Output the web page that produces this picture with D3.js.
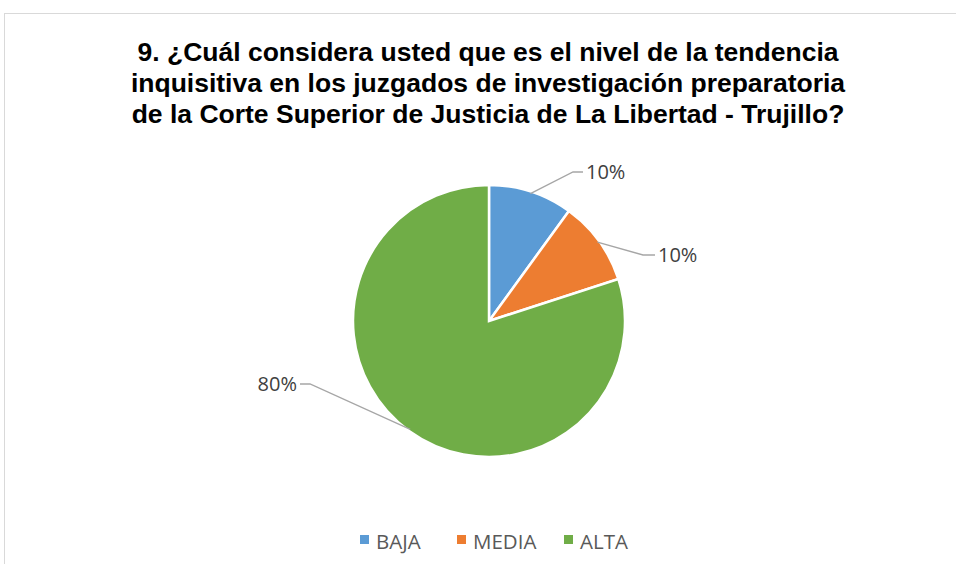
<!DOCTYPE html>
<html>
<head>
  <script src="https://cdn.jsdelivr.net/npm/d3@7"></script>
  <style>
    body { margin: 0; background: #fff; }
    svg { display: block; }
  </style>
</head>
<body>
  <svg width="956" height="564"></svg>
<script>
  const categories = ['BAJA', 'MEDIA', 'ALTA'];
  const values = [10, 10, 80];
  const pctLabels = ['10%', '10%', '80%'];
  const colors = ['#5B9BD5', '#ED7D31', '#70AD47'];
  const titleLines = [
    '9. ¿Cuál considera usted que es el nivel de la tendencia',
    'inquisitiva en los juzgados de investigación preparatoria',
    'de la Corte Superior de Justicia de La Libertad - Trujillo?'
  ];

  const svg = d3.select('svg');

  // chart frame
  svg.append('rect')
    .attr('x', 4.5).attr('y', 13.5)
    .attr('width', 960).attr('height', 560)
    .attr('fill', '#fff')
    .attr('stroke', '#d9d9d9');

  // title
  svg.append('g').selectAll('text')
    .data(titleLines)
    .enter().append('text')
    .attr('x', 488)
    .attr('y', (d, i) => 61 + i * 31)
    .attr('text-anchor', 'middle')
    .style('font-family', '"Liberation Sans", Arial, sans-serif')
    .style('font-weight', 'bold')
    .style('font-size', '26.5px')
    .attr('fill', '#000')
    .text(d => d);

  const cx = 489, cy = 321, r = 136;
  const pie = d3.pie().sort(null).value(d => d)(values);
  const arc = d3.arc().innerRadius(0).outerRadius(r);

  const g = svg.append('g').attr('transform', `translate(${cx}, ${cy})`);
  g.selectAll('path')
    .data(pie)
    .enter().append('path')
    .attr('d', arc)
    .attr('fill', (d, i) => colors[i])
    .attr('stroke', '#fff')
    .attr('stroke-width', 2.5);

  // leader lines and labels (elbow + end offsets per slice)
  const labelPos = [
    { elbow: [84, -149], end: [94, -149], anchor: 'start' },
    { elbow: [154, -66], end: [166, -66], anchor: 'start' },
    { elbow: [-179, 63], end: [-189, 63], anchor: 'end' }
  ];
  const edge = d3.arc().innerRadius(r - 2).outerRadius(r - 2);

  pie.forEach((d, i) => {
    const p0 = edge.centroid(d);
    const lp = labelPos[i];
    g.append('polyline')
      .attr('points', [p0, lp.elbow, lp.end].map(p => p.join(',')).join(' '))
      .attr('fill', 'none')
      .attr('stroke', '#a6a6a6')
      .attr('stroke-width', 1.3);
    g.append('text')
      .attr('x', lp.end[0] + (lp.anchor === 'start' ? 3 : -3))
      .attr('y', lp.end[1])
      .attr('dy', '0.35em')
      .attr('text-anchor', lp.anchor)
      .style('font-family', '"Open Sans", "Noto Sans", sans-serif')
      .style('font-size', '20px')
      .attr('fill', '#404040')
      .text(pctLabels[i]);
  });

  // legend
  const legendX = [360, 457, 564];
  const legend = svg.append('g').selectAll('g')
    .data(categories)
    .enter().append('g')
    .attr('transform', (d, i) => `translate(${legendX[i]}, 540)`);
  legend.append('rect')
    .attr('x', 0).attr('y', -5)
    .attr('width', 9).attr('height', 9)
    .attr('fill', (d, i) => colors[i]);
  legend.append('text')
    .attr('x', 16).attr('y', 2)
    .attr('dy', '0.35em')
    .style('font-family', '"Open Sans", "Noto Sans", sans-serif')
    .style('font-size', '20.5px')
    .attr('fill', '#595959')
    .text(d => d);
</script>
</body>
</html>
